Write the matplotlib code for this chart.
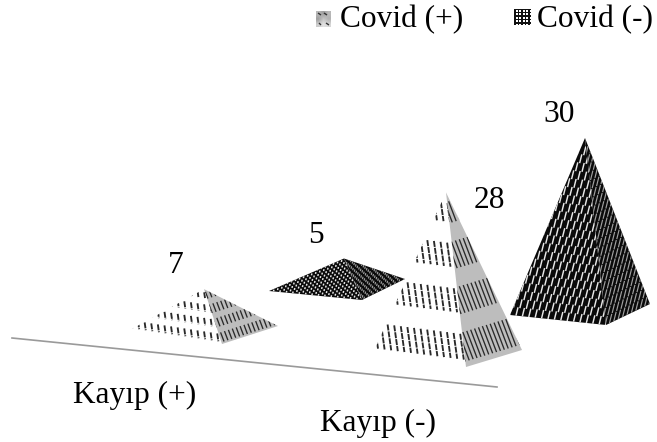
import numpy as np
import matplotlib
matplotlib.use("Agg")
import matplotlib.pyplot as plt
from matplotlib.patches import Polygon, Rectangle
from matplotlib.collections import LineCollection

categories = ["Kayıp (+)", "Kayıp (-)"]
series_names = ["Covid (+)", "Covid (-)"]
covid_pos = [7, 28]
covid_neg = [5, 30]

plt.rcParams["font.family"] = ["Liberation Serif", "DejaVu Serif"]
FS = 22.6
PX_PER_UNIT = 5.7
BANDS = [(0.06, 0.17), (0.29, 0.43), (0.55, 0.69), (0.81, 0.96)]
DARK_ROWS = 22
DARK_BANDS = [((r + 0.0) / DARK_ROWS, (r + 1.05) / DARK_ROWS) for r in range(DARK_ROWS)]

fig = plt.figure(figsize=(6.57, 4.42), dpi=100)
ax = fig.add_axes([0, 0, 1, 1])
ax.set_xlim(0, 657)
ax.set_ylim(442, 0)
ax.axis("off")


def band_strokes(apex, a, b, bands, spacing, lean, stagger=False):
    """Parallel screen-space strokes running between two lines of a face."""
    segs = []
    for i, (v0, v1) in enumerate(bands):
        top_a, top_b = apex + v0 * (a - apex), apex + v0 * (b - apex)
        bot_a, bot_b = apex + v1 * (a - apex), apex + v1 * (b - apex)
        slope_t = (top_b[1] - top_a[1]) / (top_b[0] - top_a[0])
        slope_b = (bot_b[1] - bot_a[1]) / (bot_b[0] - bot_a[0])
        offset = (i * 0.37 % 1) * spacing if stagger else 0
        xs = np.arange(np.floor(bot_a[0] / spacing) * spacing + offset - spacing,
                       bot_b[0] + spacing, spacing)
        for x in xs:
            yb = bot_a[1] + slope_b * (x - bot_a[0])
            yt = top_a[1] + slope_t * (x - top_a[0])
            h = yb - yt
            segs.append([(x - lean * h / 2, yt), (x + lean * h / 2, yb)])
    return segs


def face(ax, apex, a, b, fill, stroke, bands, spacing, lean, lw, z, stagger=False, dashes=None):
    poly = Polygon([apex, a, b], closed=True, fc=fill, ec="none", zorder=z)
    ax.add_patch(poly)
    segs = band_strokes(apex, a, b, bands, spacing, lean, stagger)
    kw = {"linestyles": [(0, dashes)]} if dashes else {}
    lc = LineCollection(segs, colors=stroke, linewidths=lw, zorder=z + 0.5, **kw)
    ax.add_collection(lc)
    lc.set_clip_path(poly)


def pyramid(ax, value, centre, apex_x, left, front, right, light, z):
    cx, cy = centre
    apex = np.array([apex_x, cy - value * PX_PER_UNIT], float)
    L = np.array([cx + left[0], cy + left[1]], float)
    F = np.array([cx + front[0], cy + front[1]], float)
    R = np.array([cx + right[0], cy + right[1]], float)
    if light:
        face(ax, apex, L, F, "white", "#2a2a2a", BANDS, 6.6, 0.14, 1.35, z, dashes=(3.2, 0.5))
        face(ax, apex, F, R, "#bdbdbd", "#2a2a2a", BANDS, 3.9, 0.38, 0.95, z)
    else:
        face(ax, apex, L, F, "#0a0a0a", "#e8e8e8", DARK_BANDS, 6.4, -0.25, 1.05, z, stagger=True)
        face(ax, apex, F, R, "#0a0a0a", "#a0a0a0", DARK_BANDS, 4.4, -0.25, 0.85, z, stagger=True)


# axis baseline
ax.plot([12, 497], [338, 387], color="#9a9a9a", lw=1.2, zorder=1)

pyramid(ax, covid_pos[0], (204, 329), 204, (-74, 1), (18, 15), (74, -3), True, 3)
pyramid(ax, covid_neg[0], (337, 287), 344, (-68, 4), (25, 13), (68, -8), False, 2)
pyramid(ax, covid_pos[1], (447, 352), 446, (-75, 3), (19, 15), (75, -2), True, 5)
pyramid(ax, covid_neg[1], (583, 309), 585, (-73, 6), (23, 16), (67, -5), False, 4)

# value labels
label_font = dict(fontsize=FS, color="black", ha="center", va="baseline", zorder=10)
ax.text(176, 273, str(covid_pos[0]), **label_font)
ax.text(316, 243, str(covid_neg[0]), **label_font)
ax.text(489, 208, str(covid_pos[1]), **label_font)
ax.text(559, 122, str(covid_neg[1]), **label_font)

# category labels
ax.text(135, 403, categories[0], **label_font)
ax.text(378, 431, categories[1], **label_font)

# legend
ax.imshow(np.array([[0.72, 0.62, 0.72], [0.62, 0.78, 0.70], [0.80, 0.88, 0.84]]),
          extent=(316, 331, 27, 11), cmap="gray", vmin=0, vmax=1,
          interpolation="bilinear", aspect="auto", zorder=6)
ax.set_xlim(0, 657)
ax.set_ylim(442, 0)
ax.add_collection(LineCollection(
    [[(318, 13), (321, 15)], [(324, 13), (327, 15)], [(319, 23), (321, 25)], [(326, 23), (329, 25)]],
    colors="#333333", linewidths=1, zorder=7))
ax.add_patch(Rectangle((514, 9), 17, 16, fc="#111111", ec="none", zorder=6))
gx, gy = np.meshgrid(np.arange(516.5, 531, 3.6), np.arange(11, 25, 3.4))
ax.scatter(gx.ravel(), gy.ravel(), s=2.2, c="white", marker="s", linewidths=0, zorder=7)
legend_font = dict(fontsize=FS, color="black", ha="left", va="baseline", zorder=10)
ax.text(339.5, 27, series_names[0], **legend_font)
ax.text(537, 27, series_names[1], **legend_font)

fig.savefig("out.png", dpi=100, facecolor="white")
